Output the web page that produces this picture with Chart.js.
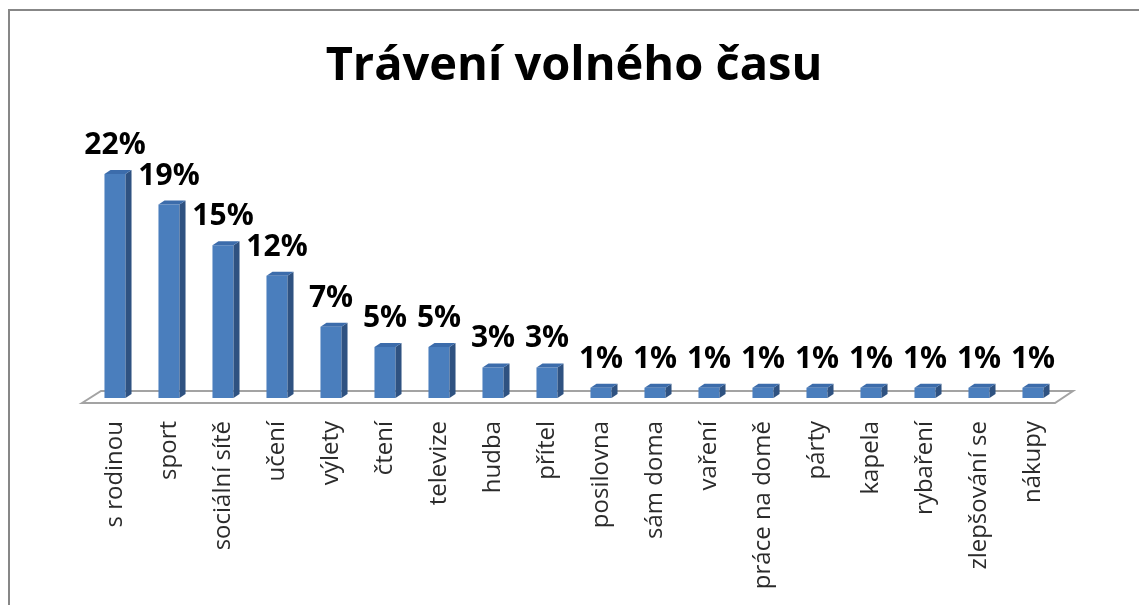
<!DOCTYPE html>
<html>
<head>
<meta charset="utf-8">
<script src="https://cdn.jsdelivr.net/npm/chart.js@4.4.0/dist/chart.umd.min.js"></script>
<style>
  html, body { margin: 0; padding: 0; background: #ffffff; }
  #wrap { position: relative; width: 1139px; height: 605px; }
</style>
</head>
<body>
<div id="wrap"><canvas id="c" width="1139" height="605"></canvas></div>
<script>
const chartTitle = 'Trávení volného času';
const categories = ['s rodinou', 'sport', 'sociální sítě', 'učení', 'výlety', 'čtení', 'televize', 'hudba', 'přítel', 'posilovna', 'sám doma', 'vaření', 'práce na domě', 'párty', 'kapela', 'rybaření', 'zlepšování se', 'nákupy'];
const values = [22, 19, 15, 12, 7, 5, 5, 3, 3, 1, 1, 1, 1, 1, 1, 1, 1, 1];

const FRONT = '#4a7ebd';
const SIDE = '#2f5281';
const TOP = '#3c6cab';
const DX = 6, DY = 4;

const framePlugin = {
  id: 'frame',
  beforeDraw(chart) {
    const ctx = chart.ctx;
    ctx.save();
    ctx.fillStyle = '#ffffff';
    ctx.fillRect(0, 0, chart.width, chart.height);
    ctx.strokeStyle = '#878787';
    ctx.lineWidth = 2;
    ctx.beginPath();
    ctx.moveTo(9, chart.height + 5);
    ctx.lineTo(9, 10);
    ctx.lineTo(chart.width + 5, 10);
    ctx.stroke();
    ctx.restore();
  },
  beforeDatasetsDraw(chart) {
    const ctx = chart.ctx;
    const a = chart.chartArea;
    ctx.save();
    ctx.strokeStyle = '#a3a3a3';
    ctx.lineWidth = 2;
    ctx.fillStyle = '#ffffff';
    ctx.beginPath();
    ctx.moveTo(a.left - 6, a.bottom + 5);
    ctx.lineTo(a.left + 13, a.bottom - 7);
    ctx.lineTo(a.right + 13, a.bottom - 7);
    ctx.lineTo(a.right - 5, a.bottom + 5);
    ctx.closePath();
    ctx.fill();
    ctx.stroke();
    ctx.restore();
  },
  afterDatasetsDraw(chart) {
    const ctx = chart.ctx;
    const meta = chart.getDatasetMeta(0);
    ctx.save();
    meta.data.forEach((bar, i) => {
      const p = bar.getProps(['x', 'y', 'base', 'width'], true);
      const l = p.x - p.width / 2, r = p.x + p.width / 2;
      ctx.fillStyle = SIDE;
      ctx.beginPath();
      ctx.moveTo(r, p.y);
      ctx.lineTo(r + DX, p.y - DY);
      ctx.lineTo(r + DX, p.base - DY);
      ctx.lineTo(r, p.base);
      ctx.closePath();
      ctx.fill();
      ctx.fillStyle = TOP;
      ctx.beginPath();
      ctx.moveTo(l, p.y);
      ctx.lineTo(l + DX, p.y - DY);
      ctx.lineTo(r + DX, p.y - DY);
      ctx.lineTo(r, p.y);
      ctx.closePath();
      ctx.fill();
      ctx.fillStyle = '#000000';
      ctx.font = 'bold 30px "Open Sans"';
      ctx.textAlign = 'center';
      ctx.textBaseline = 'alphabetic';
      ctx.fillText(values[i] + '%', p.x, p.y - 20);
    });
    ctx.restore();
  }
};

new Chart(document.getElementById('c'), {
  type: 'bar',
  data: {
    labels: categories,
    datasets: [{
      data: values,
      backgroundColor: FRONT,
      borderWidth: 0,
      barPercentage: 0.78,
      categoryPercentage: 0.5
    }]
  },
  options: {
    responsive: false,
    animation: false,
    events: [],
    layout: { padding: { left: 88, right: 79, top: 0, bottom: 0 } },
    plugins: {
      legend: { display: false },
      tooltip: { enabled: false },
      title: {
        display: true,
        text: chartTitle,
        color: '#000000',
        font: { family: 'Open Sans', size: 47, weight: 'bold', lineHeight: 1.2 },
        padding: { top: 38, bottom: 49 }
      }
    },
    scales: {
      x: {
        grid: { display: false, drawTicks: false },
        border: { display: false },
        ticks: {
          autoSkip: false,
          minRotation: 90,
          maxRotation: 90,
          padding: 23,
          color: '#2b2b2b',
          font: { family: 'Open Sans', size: 24 }
        },
        afterFit(scale) { scale.height = 207; }
      },
      y: {
        display: false,
        min: 0,
        max: 25
      }
    }
  },
  plugins: [framePlugin]
});
</script>
</body>
</html>
